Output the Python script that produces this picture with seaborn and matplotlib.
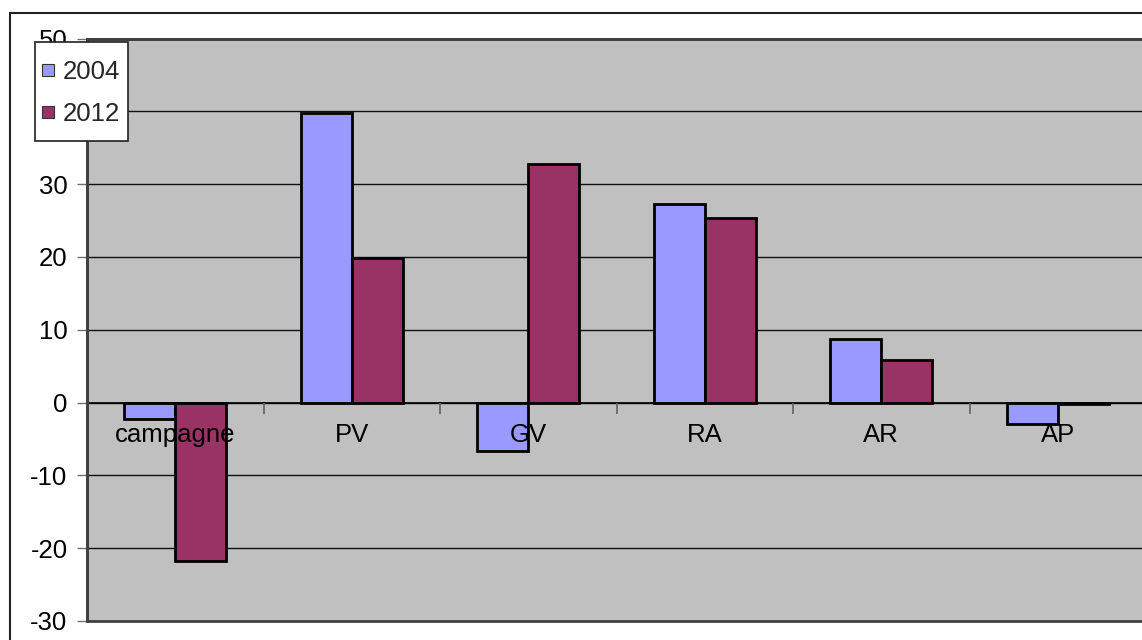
import matplotlib
matplotlib.use("Agg")
import matplotlib.pyplot as plt
import matplotlib.patches as mpatches
from matplotlib.lines import Line2D
from matplotlib.ticker import FixedLocator
import seaborn as sns
import pandas as pd

categories = ["campagne", "PV", "GV", "RA", "AR", "AP"]
years = ["2004", "2012"]
values_2004 = [-2.3, 39.7, -6.7, 27.3, 8.7, -2.9]
values_2012 = [-21.7, 19.8, 32.7, 25.3, 5.9, -0.2]
yticks = [-30, -20, -10, 0, 10, 20, 30, 40, 50]
colors = ["#9999FF", "#993366"]

df = pd.DataFrame({
    "cat": categories * 2,
    "year": [years[0]] * len(categories) + [years[1]] * len(categories),
    "val": values_2004 + values_2012,
})

sns.set_theme(style="white")
plt.rcParams["font.family"] = ["Liberation Sans", "DejaVu Sans"]
plt.rcParams["axes.unicode_minus"] = False

FS = 18.5
W, H = 1142, 640
fig = plt.figure(figsize=(W / 100, H / 100), dpi=100)
fig.patch.set_facecolor("white")
ax = fig.add_axes([87 / W, 1 - 621 / H, (1146 - 87) / W, (621 - 38.5) / H])
ax.set_facecolor("#C0C0C0")

sns.barplot(data=df, x="cat", y="val", hue="year", hue_order=years,
            order=categories, palette=colors, width=0.58, gap=0,
            edgecolor="black", linewidth=2.0, saturation=1, ax=ax, zorder=3,
            legend=False)

ax.set_xlim(-0.5, 5.5)
ax.set_ylim(-30, 50)
ax.set_xlabel("")
ax.set_ylabel("")

# gridlines
ax.set_yticks(yticks)
ax.yaxis.grid(True, color="#101010", linewidth=1.0)
ax.set_axisbelow(True)
ax.tick_params(axis="y", which="major", direction="out", length=7, width=1,
               color="#707070", pad=7, labelsize=FS, labelcolor="black", left=True)

# x axis at zero
for s in ["top", "left", "right"]:
    ax.spines[s].set_color("#404040")
    ax.spines[s].set_linewidth(2)
ax.spines["bottom"].set_position(("data", 0))
ax.spines["bottom"].set_color("black")
ax.spines["bottom"].set_linewidth(1.2)
ax.add_patch(mpatches.Rectangle((0, 0), 1, 1, transform=ax.transAxes, fill=False,
                                edgecolor="#404040", linewidth=2, clip_on=False, zorder=5))

ax.set_xticks(range(len(categories)))
ax.set_xticklabels(categories)
ax.tick_params(axis="x", which="major", length=0, pad=15, labelsize=FS,
               labelcolor="black", bottom=True)
ax.xaxis.set_minor_locator(FixedLocator([i + 0.5 for i in range(len(categories) - 1)]))
ax.tick_params(axis="x", which="minor", direction="out", length=8, width=1.2,
               color="#606060", bottom=True)
ax.xaxis.set_zorder(6)

# legend box (frame drawn separately)
box = mpatches.Rectangle((35 / W, 1 - 141 / H), (128 - 35) / W, (141 - 42) / H,
                         transform=fig.transFigure, facecolor="white",
                         edgecolor="#202020", linewidth=1.2, zorder=15)
fig.add_artist(box)
handles = [Line2D([], [], linestyle="None", marker="s", markersize=8,
                  markerfacecolor=c, markeredgecolor="#333333", markeredgewidth=0.8)
           for c in colors]
leg = fig.legend(handles, years, loc="upper left",
                 bbox_to_anchor=(42 / W, 1 - 60 / H), bbox_transform=fig.transFigure,
                 frameon=False, fontsize=FS,
                 handlelength=0.5, handletextpad=0.3,
                 labelspacing=0.7, borderpad=0, borderaxespad=0)
leg.set_zorder(20)

# outer chart border
fig.patches.append(mpatches.Rectangle((10 / W, -0.1), 2, 1 - 13 / H + 0.1,
                                      transform=fig.transFigure, fill=False,
                                      edgecolor="#202020", linewidth=1.5, zorder=0))

fig.savefig("out.png", dpi=100, facecolor="white")
